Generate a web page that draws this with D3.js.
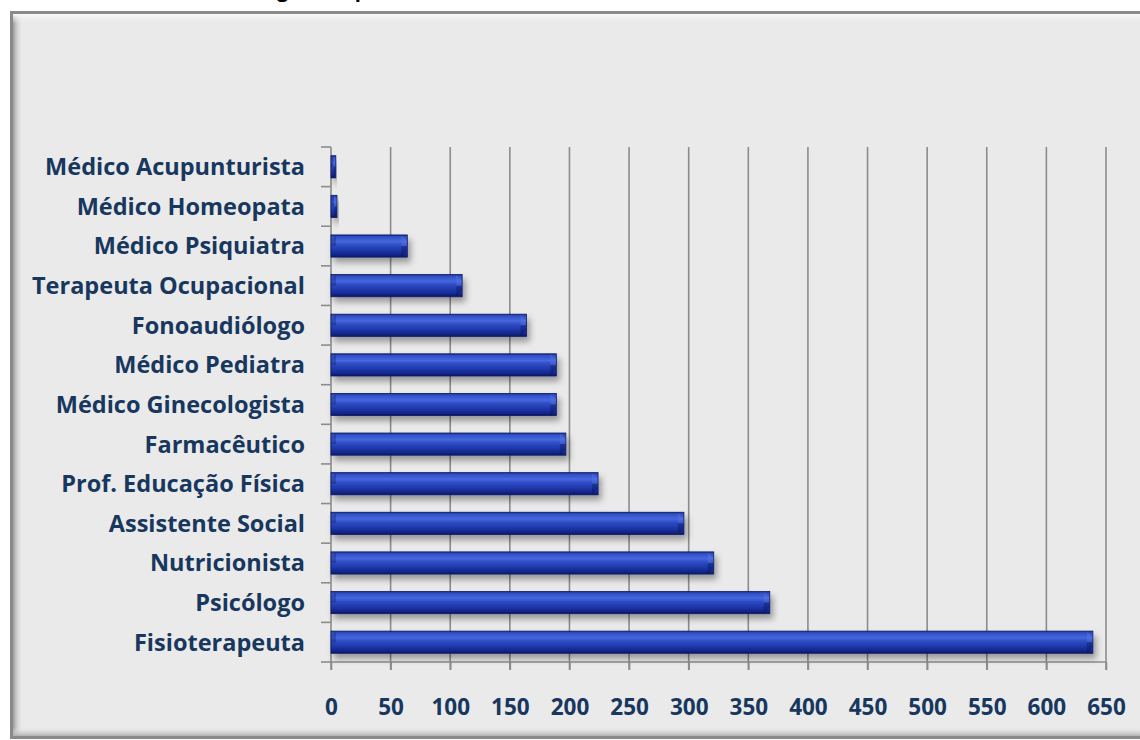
<!DOCTYPE html>
<html>
<head>
<meta charset="utf-8">
<script src="https://cdn.jsdelivr.net/npm/d3@7"></script>
<style>
  html, body { margin: 0; padding: 0; background: #ffffff; }
  svg { display: block; }
  text { font-family: "Open Sans", "Lato", sans-serif; font-weight: 700; }
</style>
</head>
<body>
<svg id="chart" width="1140" height="740"></svg>
<script>
// Professionals by category (top to bottom as drawn)
const categories = [
  "Médico Acupunturista",
  "Médico Homeopata",
  "Médico Psiquiatra",
  "Terapeuta Ocupacional",
  "Fonoaudiólogo",
  "Médico Pediatra",
  "Médico Ginecologista",
  "Farmacêutico",
  "Prof. Educação Física",
  "Assistente Social",
  "Nutricionista",
  "Psicólogo",
  "Fisioterapeuta"
];
const values = [4, 5, 64, 110, 164, 189, 189, 197, 224, 296, 321, 368, 639];
const xTicks = [0, 50, 100, 150, 200, 250, 300, 350, 400, 450, 500, 550, 600, 650];
const title = "Contagem de profissionais dos NASF cadastrados no CNES, Brasil, 2013";

const svg = d3.select("#chart");
const labelColor = "#17375E";
const gridColor = "#8c8c8c";

const defs = svg.append("defs");

// glossy bar fill
const barGrad = defs.append("linearGradient")
  .attr("id", "barGrad").attr("x1", 0).attr("y1", 0).attr("x2", 0).attr("y2", 1);
[
  [0.00, "#1a2c8c"],
  [0.08, "#2f4fc6"],
  [0.30, "#4767de"],
  [0.45, "#2f4dc4"],
  [0.70, "#1e37aa"],
  [0.90, "#132486"],
  [1.00, "#0b175e"]
].forEach(([o, c]) => barGrad.append("stop").attr("offset", o).attr("stop-color", c));

// soft shadow under each bar
const shadow = defs.append("filter").attr("id", "barShadow")
  .attr("x", "-10%").attr("y", "-50%").attr("width", "130%").attr("height", "250%");
shadow.append("feDropShadow")
  .attr("dx", 3).attr("dy", 5).attr("stdDeviation", 3)
  .attr("flood-color", "#000").attr("flood-opacity", 0.35);

// frame edge shading
const leftShade = defs.append("linearGradient").attr("id", "leftShade")
  .attr("x1", 0).attr("y1", 0).attr("x2", 1).attr("y2", 0);
leftShade.append("stop").attr("offset", 0).attr("stop-color", "#9a9a9a");
leftShade.append("stop").attr("offset", 1).attr("stop-color", "#eaeaea").attr("stop-opacity", 0);
const topShade = defs.append("linearGradient").attr("id", "topShade")
  .attr("x1", 0).attr("y1", 0).attr("x2", 0).attr("y2", 1);
topShade.append("stop").attr("offset", 0).attr("stop-color", "#fafafa");
topShade.append("stop").attr("offset", 1).attr("stop-color", "#eaeaea").attr("stop-opacity", 0);
const bottomShade = defs.append("linearGradient").attr("id", "bottomShade")
  .attr("x1", 0).attr("y1", 1).attr("x2", 0).attr("y2", 0);
bottomShade.append("stop").attr("offset", 0).attr("stop-color", "#b0b0b0");
bottomShade.append("stop").attr("offset", 1).attr("stop-color", "#eaeaea").attr("stop-opacity", 0);

// title, running off the top edge of the page
svg.append("text")
  .attr("x", 218).attr("y", -3)
  .attr("font-size", 20)
  .attr("fill", "#000")
  .text(title);

// chart frame
svg.append("rect")
  .attr("x", 11.5).attr("y", 12.5).attr("width", 1150).attr("height", 725)
  .attr("fill", "#eaeaea").attr("stroke", "#8a8a8a").attr("stroke-width", 3);
svg.append("rect").attr("x", 13).attr("y", 14).attr("width", 10).attr("height", 722).attr("fill", "url(#leftShade)");
svg.append("rect").attr("x", 13).attr("y", 14).attr("width", 1130).attr("height", 10).attr("fill", "url(#topShade)");
svg.append("rect").attr("x", 13).attr("y", 727).attr("width", 1130).attr("height", 9).attr("fill", "url(#bottomShade)");

// scales
const plotTop = 147, plotBottom = 662;
const x = d3.scaleLinear().domain([0, 650]).range([331, 1106]);
const y = d3.scaleBand().domain(categories).range([plotTop, plotBottom]).paddingInner(0.44).paddingOuter(0.22);

// vertical gridlines
svg.append("g").selectAll("line").data(xTicks.slice(1)).join("line")
  .attr("x1", d => x(d)).attr("x2", d => x(d))
  .attr("y1", plotTop).attr("y2", plotBottom + 8)
  .attr("stroke", gridColor).attr("stroke-width", 1.6);

// x axis (baseline, ticks, labels)
const xAxis = d3.axisBottom(x).tickValues(xTicks).tickSize(8).tickPadding(0).tickFormat(d3.format("d"));
const gx = svg.append("g").attr("transform", `translate(0,${plotBottom})`).call(xAxis);
gx.select(".domain").attr("stroke", gridColor).attr("stroke-width", 1.6).attr("d", `M${x(0)},0H${x(650)}`);
gx.selectAll(".tick line").attr("stroke", gridColor).attr("stroke-width", 1.6);
gx.selectAll(".tick text")
  .attr("y", 53).attr("dy", 0)
  .attr("font-size", 22.5).attr("fill", labelColor)
  .attr("font-family", "'Open Sans', sans-serif").attr("font-weight", 700);

// y axis with ticks at category boundaries
const bounds = d3.range(categories.length + 1).map(i => plotTop + i * y.step());
svg.append("line").attr("x1", x(0)).attr("x2", x(0)).attr("y1", plotTop).attr("y2", plotBottom + 8)
  .attr("stroke", gridColor).attr("stroke-width", 1.6);
svg.append("g").selectAll("line").data(bounds).join("line")
  .attr("x1", x(0) - 10).attr("x2", x(0))
  .attr("y1", d => d).attr("y2", d => d)
  .attr("stroke", gridColor).attr("stroke-width", 1.6);

// category labels
svg.append("g").selectAll("text").data(categories).join("text")
  .attr("x", 305)
  .attr("y", d => y(d) + y.bandwidth() / 2)
  .attr("dy", "0.36em")
  .attr("text-anchor", "end")
  .attr("font-size", 23.5)
  .attr("fill", labelColor)
  .text(d => d);

// bars
const bars = svg.append("g").selectAll("g").data(categories.map((c, i) => ({ c, v: values[i] }))).join("g");
bars.append("rect")
  .attr("x", x(0))
  .attr("y", d => y(d.c))
  .attr("width", d => x(d.v) - x(0))
  .attr("height", y.bandwidth())
  .attr("fill", "url(#barGrad)")
  .attr("stroke", "#0e1b66").attr("stroke-width", 0.8)
  .attr("filter", "url(#barShadow)");
// bevelled ends
bars.append("path")
  .attr("d", d => {
    const x1 = x(d.v), y0 = y(d.c), h = y.bandwidth(), b = Math.min(6, (x(d.v) - x(0)) / 2);
    return `M${x1 - b},${y0 + 0.5}L${x1 - 0.5},${y0 + b}L${x1 - 0.5},${y0 + h / 2}L${x1 - b},${y0 + h / 2}Z`;
  })
  .attr("fill", "#5b7ae6").attr("opacity", 0.35);
bars.append("path")
  .attr("d", d => {
    const x1 = x(d.v), y0 = y(d.c), h = y.bandwidth(), b = Math.min(6, (x(d.v) - x(0)) / 2);
    return `M${x1 - b},${y0 + h / 2}L${x1 - 0.5},${y0 + h / 2}L${x1 - 0.5},${y0 + h - b}L${x1 - b},${y0 + h - 0.5}Z`;
  })
  .attr("fill", "#07104a").attr("opacity", 0.35);
bars.append("path")
  .attr("d", d => {
    const x0 = x(0), y0 = y(d.c), h = y.bandwidth(), b = Math.min(5, (x(d.v) - x(0)) / 2);
    return `M${x0 + 0.5},${y0 + b}L${x0 + b},${y0 + 0.5}L${x0 + b},${y0 + h / 2}L${x0 + 0.5},${y0 + h / 2}Z`;
  })
  .attr("fill", "#0b175e").attr("opacity", 0.3);
</script>
</body>
</html>
